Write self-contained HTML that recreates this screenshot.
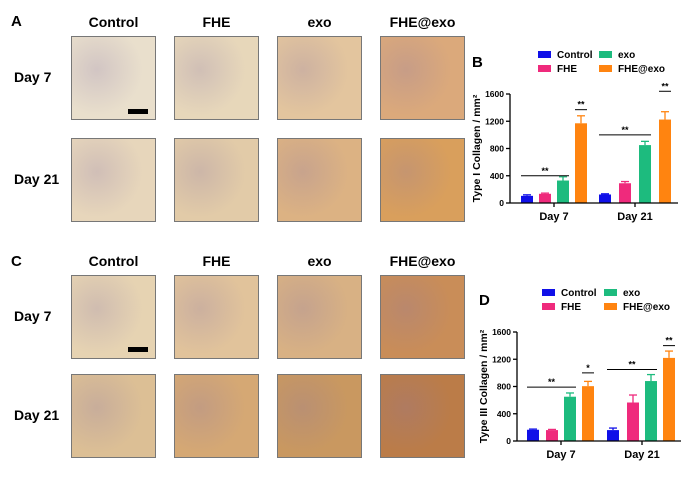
<!DOCTYPE html>
<html><head><meta charset="utf-8"><style>
body{margin:0;background:#fff;width:692px;height:479px;overflow:hidden;position:relative;font-family:"Liberation Sans",sans-serif}
.t{position:absolute;font-weight:bold;color:#000;white-space:nowrap}
.img{position:absolute;width:85px;height:84px;border:1px solid #777;box-sizing:border-box}
</style></head><body>
<div class="t" style="left:11px;top:13px;font-size:15px">A</div>
<div class="t" style="left:11px;top:253px;font-size:15px">C</div>
<div id="imgs"></div>
<svg id="chartB" width="692" height="479" style="position:absolute;left:0;top:0"></svg>
<script>
const groups=["Control","FHE","exo","FHE@exo"];
const days=["Day 7","Day 21"];
const imgColors=[["#e9dfcc","#e7d7ba","#e3c59e","#dba97b"],["#e7d6bb","#e2cba8","#dcb283","#d99f5c"],
["#e6d3b2","#e1c39b","#d8b184","#c98d58"],["#dcbf95","#d5a874","#c99860","#bb7c48"]];
const imgRows=[36,138,275,374], imgCols=[71,174,277,380];
const host=document.getElementById('imgs');
[[0,"A"],[2,"C"]].forEach(([r0,p])=>{
  const hy = p=="A"?14:253;
  groups.forEach((g,i)=>{
    const d=document.createElement('div');d.className='t';
    
    
    d.style.cssText=`left:${imgCols[i]}px;width:85px;text-align:center;top:${hy}px;font-size:14px`;
    d.textContent=g;host.appendChild(d);
  });
  days.forEach((dy,j)=>{
    const d=document.createElement('div');d.className='t';
    
    
    d.style.cssText=`left:14px;top:${imgRows[r0+j]+33}px;font-size:14px`;
    d.textContent=dy;host.appendChild(d);
    groups.forEach((g,i)=>{
      const im=document.createElement('div');im.className='img';
      
      
      const c=imgColors[r0+j][i];
      im.style.cssText=`left:${imgCols[i]}px;top:${imgRows[r0+j]}px;background:radial-gradient(circle at 30% 40%, rgba(140,120,170,0.25), rgba(0,0,0,0) 60%),${c}`;
      host.appendChild(im);
    });
  });
});
[[71+57,36+73],[71+57,275+72]].forEach(([x,y])=>{const s=document.createElement('div');

s.style.cssText=`position:absolute;left:${x}px;top:${y}px;width:20px;height:5px;background:#000`;host.appendChild(s);});

const colors=["#1010e8","#ef2a7c","#1dbb7e","#ff8410"];
const bMeans=[[105,135,330,1170],[125,290,850,1225]];
const bErrs=[[15,10,55,110],[10,25,55,115]];
const dMeans=[[165,160,650,805],[160,565,880,1220]];
const dErrs=[[10,10,55,70],[30,110,95,100]];
const yTicks=[0,400,800,1200,1600];
const bSig=[["**",0,2,400],["**",3,3,1370],["**",4,6,1000],["**",7,7,1640]];
const dSig=[["**",0,2,790],["*",3,3,1000],["**",4,6,1050],["**",7,7,1400]];

const svg=document.getElementById('chartB');const NS="http://www.w3.org/2000/svg";
function el(t,a,name,txt){const e=document.createElementNS(NS,t);for(const k in a)e.setAttribute(k,a[k]);


if(txt!=null)e.textContent=txt;svg.appendChild(e);return e;}
function chart(cfg){
  const {ax,y0,y1,xEnd,centers,means,errs,sig,letter,title,ly,lx0,lx1}=cfg;
  const Y=v=>y0-(v/1600)*(y0-y1);
  const bw=12;
  el('text',{x:ax-38,y:ly+9,'font-size':15,'font-weight':'bold','font-family':'Liberation Sans'},'panel-label',letter);
  groups.forEach((g,i)=>{const lx=(i>=2?lx1:lx0),yy=ly+(i%2)*14;
    el('rect',{x:lx,y:yy-7,width:13,height:7,fill:colors[i]},'legend-swatch');
    el('text',{x:lx+19,y:yy,'font-size':10,'font-weight':'bold','font-family':'Liberation Sans'},'legend-entry',g);});
  yTicks.forEach(v=>{el('line',{x1:ax-4,x2:ax,y1:Y(v),y2:Y(v),stroke:'#000','stroke-width':1.3},'y-tick');
    el('text',{x:ax-6,y:Y(v)+3,'font-size':8.5,'font-weight':'bold','text-anchor':'end','font-family':'Liberation Sans'},'y-tick-label',v);});
  means.forEach((arr,d)=>arr.forEach((m,i)=>{const cx=centers[d*4+i];
    el('line',{x1:cx,x2:cx,y1:Y(m),y2:Y(m+errs[d][i]),stroke:colors[i],'stroke-width':1.3},'error-bar');
    el('line',{x1:cx-4,x2:cx+4,y1:Y(m+errs[d][i]),y2:Y(m+errs[d][i]),stroke:colors[i],'stroke-width':1.3},'error-cap');
    el('rect',{x:cx-bw/2,y:Y(m),width:bw,height:y0-Y(m),fill:colors[i]},'bar-'+days[d].replace(' ','').toLowerCase()+'-'+i);}));
  el('line',{x1:ax,x2:ax,y1:y1,y2:y0,stroke:'#000','stroke-width':1.3},'y-axis');
  el('line',{x1:ax,x2:xEnd,y1:y0,y2:y0,stroke:'#000','stroke-width':1.3},'x-axis');
  days.forEach((dy,d)=>{const mx=(centers[d*4+1]+centers[d*4+2])/2;
    el('line',{x1:mx,x2:mx,y1:y0,y2:y0+4,stroke:'#000','stroke-width':1.3},'x-tick');
    el('text',{x:mx,y:y0+17,'font-size':11,'font-weight':'bold','text-anchor':'middle','font-family':'Liberation Sans'},'x-tick-label',dy);});
  sig.forEach(([s,a,b,v])=>{const x1=centers[a]-6,x2=centers[b]+6;
    el('line',{x1:x1,x2:x2,y1:Y(v),y2:Y(v),stroke:'#000','stroke-width':1},'significance-line');
    el('text',{x:(x1+x2)/2,y:Y(v)-2,'font-size':9,'font-weight':'bold','text-anchor':'middle','font-family':'Liberation Sans'},'significance-mark',s);});
  const mid=(y0+y1)/2;
  el('text',{x:0,y:0,'font-size':10.5,'font-weight':'bold','text-anchor':'middle','font-family':'Liberation Sans',transform:`translate(${ax-30},${mid}) rotate(-90)`},'y-axis-title',title);
}
chart({ax:510,y0:203,y1:94,xEnd:678,centers:[527,545,563,581,605,625,645,665],means:bMeans,errs:bErrs,sig:bSig,letter:'B',title:'Type I Collagen / mm²',ly:58,lx0:538,lx1:599});
chart({ax:517,y0:441,y1:332,xEnd:681,centers:[533,552,570,588,613,633,651,669],means:dMeans,errs:dErrs,sig:dSig,letter:'D',title:'Type III Collagen / mm²',ly:296,lx0:542,lx1:604});
</script>
</body></html>
